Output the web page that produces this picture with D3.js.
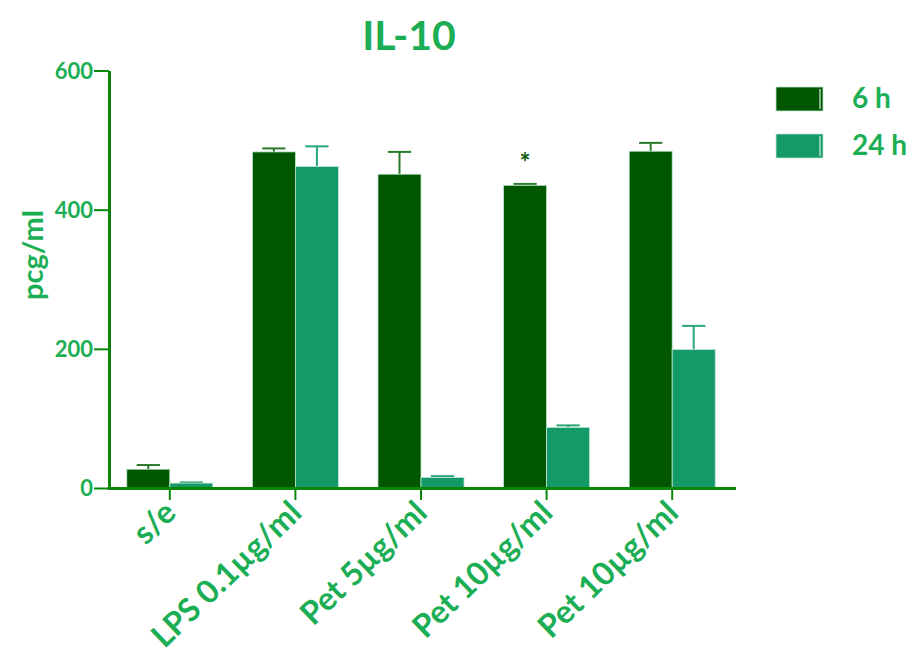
<!DOCTYPE html>
<html>
<head>
<meta charset="utf-8">
<script src="https://cdn.jsdelivr.net/npm/d3@7"></script>
<style>
  html, body { margin: 0; padding: 0; background: #ffffff; }
  svg { display: block; }
  text { font-family: Lato, "Open Sans", sans-serif; font-weight: 700; }
</style>
</head>
<body>
<svg id="chart" width="917" height="656"></svg>
<script>
// IL-10 concentration (pcg/ml) at 6 h and 24 h for each treatment
const categories = ["s/e", "LPS 0.1µg/ml", "Pet 5µg/ml", "Pet 10µg/ml", "Pet 10µg/ml "];
const seriesNames = ["6 h", "24 h"];
const values6h = [27, 483, 451, 435, 484];
const values24h = [7, 462, 15, 87, 199];
const errors6h = [6, 5, 32, 2, 12];
const errors24h = [1, 29, 2, 3, 34];
const yTicks = [0, 200, 400, 600];
const significant = [false, false, false, true, false];

const colors = { "6 h": "#005700", "24 h": "#139a68" };
const errColors = { "6 h": "#2a782a", "24 h": "#2aa57a" };
const textGreen = "#1cae55";
const axisGreen = "#0b860b";

const svg = d3.select("#chart");

const x = d3.scaleBand()
  .domain(categories)
  .range([107, 735])
  .paddingInner(0.315)
  .paddingOuter(0.1575);

const xSub = d3.scaleBand()
  .domain(seriesNames)
  .range([0, x.bandwidth()]);

const y = d3.scaleLinear()
  .domain([0, 600])
  .range([488, 70.5]);

const rows = categories.map((c, i) => ({
  cat: c,
  sig: significant[i],
  bars: [
    { s: "6 h", v: values6h[i], e: errors6h[i] },
    { s: "24 h", v: values24h[i], e: errors24h[i] }
  ]
}));

const groups = svg.append("g").selectAll("g")
  .data(rows).join("g")
  .attr("transform", d => `translate(${x(d.cat)},0)`);

// error bars: stem and cap above each bar
groups.selectAll("g.err")
  .data(d => d.bars).join("g")
  .attr("class", "err")
  .each(function (d) {
    const g = d3.select(this);
    const cx = xSub(d.s) + xSub.bandwidth() / 2;
    const capHalf = xSub.bandwidth() * 0.27;
    g.append("line")
      .attr("x1", cx).attr("x2", cx)
      .attr("y1", y(d.v)).attr("y2", y(d.v + d.e))
      .attr("stroke", errColors[d.s]).attr("stroke-width", 2);
    g.append("line")
      .attr("x1", cx - capHalf).attr("x2", cx + capHalf)
      .attr("y1", y(d.v + d.e)).attr("y2", y(d.v + d.e))
      .attr("stroke", errColors[d.s]).attr("stroke-width", 2);
  });

groups.selectAll("rect")
  .data(d => d.bars).join("rect")
  .attr("x", d => xSub(d.s))
  .attr("width", xSub.bandwidth())
  .attr("y", d => y(d.v))
  .attr("height", d => y(0) - y(d.v))
  .attr("fill", d => colors[d.s])
  .attr("stroke", "#bfe6cf")
  .attr("stroke-width", 0.8);

// significance marker
groups.filter(d => d.sig).append("text")
  .attr("x", xSub("6 h") + xSub.bandwidth() / 2)
  .attr("y", d => y(d.bars[0].v + d.bars[0].e) - 12)
  .attr("text-anchor", "middle")
  .attr("font-size", 26)
  .attr("fill", "#0a5a0a")
  .text("*");

// y axis
const yAxis = svg.append("g")
  .attr("transform", "translate(109,0)")
  .call(d3.axisLeft(y).tickValues(yTicks).tickSize(15).tickSizeOuter(0).tickPadding(1));
yAxis.select(".domain").attr("stroke", axisGreen).attr("stroke-width", 3);
yAxis.selectAll(".tick line").attr("stroke", axisGreen).attr("stroke-width", 2);
yAxis.selectAll(".tick text")
  .attr("fill", textGreen)
  .attr("font-size", 22)
  .attr("font-family", "Lato, sans-serif")
  .attr("font-weight", 700)
  .attr("dy", "0.36em");

// x axis
const xAxis = svg.append("g")
  .attr("transform", `translate(0,${y(0)})`)
  .call(d3.axisBottom(x).tickSize(12).tickSizeOuter(0));
xAxis.select(".domain").attr("stroke", axisGreen).attr("stroke-width", 3)
  .attr("d", "M107.5,0.5H736");
xAxis.selectAll(".tick line").attr("stroke", axisGreen).attr("stroke-width", 2);
xAxis.selectAll(".tick text")
  .attr("fill", textGreen)
  .attr("font-size", 32)
  .attr("font-family", "Lato, sans-serif")
  .attr("font-weight", 700)
  .attr("text-anchor", "end")
  .attr("dy", 0)
  .attr("y", 0)
  .attr("x", 0)
  .attr("transform", "translate(8,27) rotate(-44)");

// title
svg.append("text")
  .attr("x", 409).attr("y", 50)
  .attr("text-anchor", "middle")
  .attr("font-size", 41)
  .attr("fill", textGreen)
  .text("IL-10");

// y label
svg.append("text")
  .attr("transform", "translate(43,255) rotate(-90)")
  .attr("text-anchor", "middle")
  .attr("font-size", 29)
  .attr("fill", textGreen)
  .text("pcg/ml");

// legend
const legend = svg.append("g").selectAll("g")
  .data(seriesNames).join("g")
  .attr("transform", (d, i) => `translate(776,${87 + i * 47})`);
legend.append("rect")
  .attr("width", 47).attr("height", 24)
  .attr("fill", d => colors[d])
  .attr("stroke", "#bfe6cf").attr("stroke-width", 0.8);
legend.append("line")
  .attr("x1", 44).attr("x2", 44).attr("y1", 2).attr("y2", 22)
  .attr("stroke", "#d8f0e0").attr("stroke-width", 1.2);
legend.append("text")
  .attr("x", 76).attr("y", 21)
  .attr("font-size", 28)
  .attr("fill", textGreen)
  .text(d => d);
</script>
</body>
</html>
